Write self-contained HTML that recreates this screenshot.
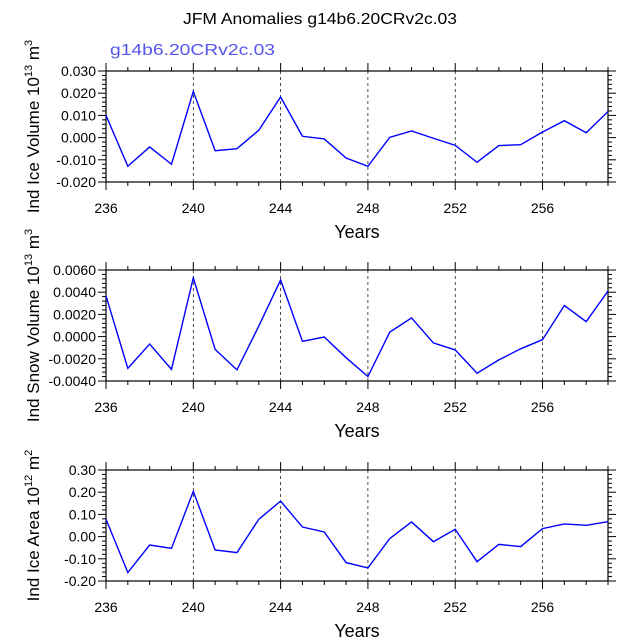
<!DOCTYPE html>
<html><head><meta charset="utf-8"><style>
body{margin:0;background:#fff}
svg{display:block;font-family:"Liberation Sans",Arial,sans-serif}
</style></head><body>
<svg id="chart" width="638" height="638" xmlns="http://www.w3.org/2000/svg">
<text x="183" y="24" textLength="274" lengthAdjust="spacingAndGlyphs" font-size="16">JFM Anomalies g14b6.20CRv2c.03</text>
<text x="110" y="55" textLength="165" lengthAdjust="spacingAndGlyphs" font-size="16" fill="#5555ee">g14b6.20CRv2c.03</text>
</svg>
<script>
const years = [236,237,238,239,240,241,242,243,244,245,246,247,248,249,250,251,252,253,254,255,256,257,258,259];
const iceVolume = [0.010,-0.0129,-0.0042,-0.012,0.0208,-0.0059,-0.005,0.0033,0.0183,0.0006,-0.0006,-0.0092,-0.0129,0.0001,0.003,-0.0003,-0.0035,-0.0111,-0.0036,-0.0032,0.0025,0.0076,0.0022,0.0117];
const snowVolume = [0.00366,-0.00286,-0.00067,-0.00295,0.0053,-0.00115,-0.003,0.00095,0.0051,-0.00043,-0.00004,-0.0019,-0.0036,0.0004,0.00168,-0.00057,-0.0012,-0.0033,-0.0021,-0.0011,-0.00028,0.0028,0.00135,0.0041];
const iceArea = [0.078,-0.162,-0.038,-0.053,0.204,-0.06,-0.072,0.078,0.16,0.043,0.021,-0.117,-0.141,-0.009,0.066,-0.023,0.033,-0.113,-0.035,-0.045,0.036,0.057,0.051,0.067];
const xTickLabels = ["236","240","244","248","252","256"];
const iceVolTicks = ["0.030","0.020","0.010","0.000","-0.010","-0.020"];
const snowVolTicks = ["0.0060","0.0040","0.0020","0.0000","-0.0020","-0.0040"];
const iceAreaTicks = ["0.30","0.20","0.10","0.00","-0.10","-0.20"];

const NS="http://www.w3.org/2000/svg";
const svg=document.getElementById('chart');
function mk(tag,attrs,parent){const e=document.createElementNS(NS,tag);for(const k in attrs)e.setAttribute(k,attrs[k]);(parent||svg).appendChild(e);return e;}
const X0=106,X1=608,YMIN=236,YMAX=259;
function xs(v){return X0+(v-YMIN)/(YMAX-YMIN)*(X1-X0);}

function panel(top,vals,ticks,vmin,vmax,labelMain,exp,unitExp,pname){
  const bot=top+111;
  const g=mk('g',{});
  
  
  function ys(v){return bot-(v-vmin)/(vmax-vmin)*(bot-top);}
  for(let yr=240;yr<=256;yr+=4){
    const l=mk('line',{x1:xs(yr),x2:xs(yr),y1:top,y2:bot,stroke:'#000','stroke-width':0.7,'stroke-dasharray':'3,3'},g);
    
    
  }
  for(let yr=YMIN;yr<=YMAX;yr++){
    const major=(yr-236)%4===0, len=major?8:4;
    mk('line',{x1:xs(yr),x2:xs(yr),y1:bot,y2:bot+len,stroke:'#000','stroke-width':1},g);
    mk('line',{x1:xs(yr),x2:xs(yr),y1:top,y2:top-len,stroke:'#000','stroke-width':1},g);
  }
  xTickLabels.forEach(t=>{
    const tx=mk('text',{x:xs(+t),y:bot+31,'text-anchor':'middle','font-size':14},g);
    
    
    tx.textContent=t;
  });
  const n=ticks.length-1, step=(vmax-vmin)/n;
  for(let i=0;i<=n*5;i++){
    const v=vmin+i*step/5, major=i%5===0, len=major?8:4, y=ys(v);
    mk('line',{x1:X0,x2:X0-len,y1:y,y2:y,stroke:'#000','stroke-width':1},g);
    mk('line',{x1:X1,x2:X1+len,y1:y,y2:y,stroke:'#000','stroke-width':1},g);
  }
  ticks.forEach(t=>{
    const tx=mk('text',{x:X0-10,y:ys(parseFloat(t))+5,'text-anchor':'end','font-size':14},g);
    
    
    tx.textContent=t;
  });
  const fr=mk('rect',{x:X0,y:top,width:X1-X0,height:bot-top,fill:'none',stroke:'#000','stroke-width':1.2},g);
  
  
  const pts=vals.map((v,i)=>xs(years[i])+','+ys(v)).join(' ');
  const pl=mk('polyline',{points:pts,fill:'none',stroke:'#0000ff','stroke-width':1.4},g);
  
  
  const xt=mk('text',{x:357,y:bot+56,'text-anchor':'middle','font-size':18},g);
  
  
  xt.textContent='Years';
  const cy=(top+bot)/2;
  const yt=mk('text',{x:0,y:0,'text-anchor':'middle','font-size':17,transform:`translate(39,${cy}) rotate(-90)`},g);
  
  
  yt.innerHTML=labelMain+' 10<tspan font-size="11" dy="-7">'+exp+'</tspan><tspan dy="7"> m</tspan><tspan font-size="11" dy="-7">'+unitExp+'</tspan>';
}
panel(71,iceVolume,iceVolTicks,-0.02,0.03,'Ind Ice Volume','13','3','ice-volume');
panel(270,snowVolume,snowVolTicks,-0.004,0.006,'Ind Snow Volume','13','3','snow-volume');
panel(470,iceArea,iceAreaTicks,-0.2,0.3,'Ind Ice Area','12','2','ice-area');
</script>
</body></html>
